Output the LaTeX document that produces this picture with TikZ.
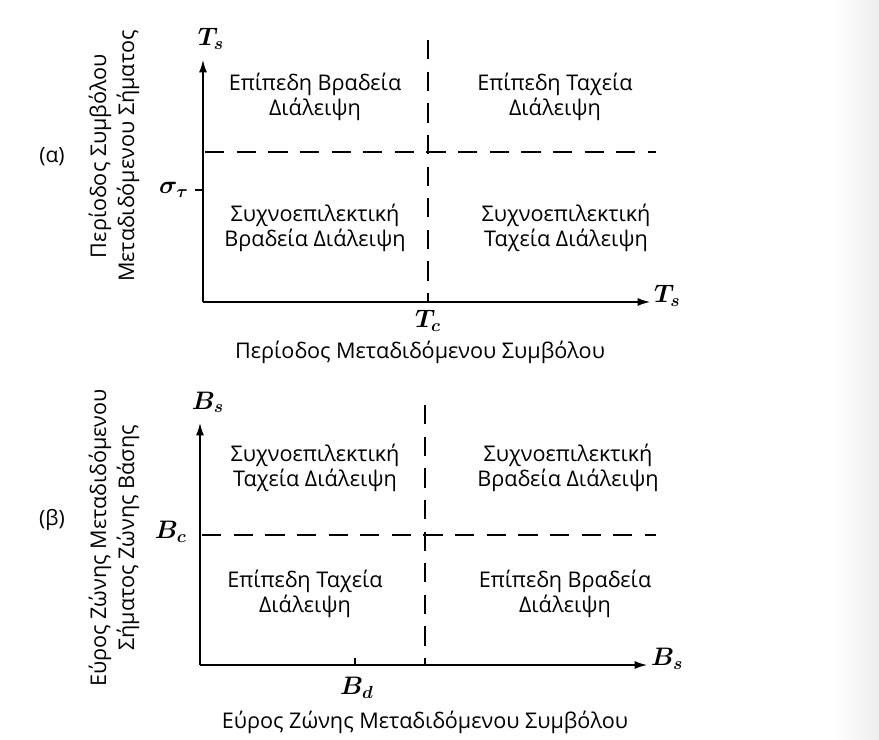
\documentclass[tikz,border=0pt]{standalone}
\usepackage{amsmath}
\usepackage{fontspec}
\setmainfont{Open Sans}
\usepackage{tikz}
\usetikzlibrary{arrows.meta}

\begin{document}
\begin{tikzpicture}[x=0.02cm,y=-0.02cm]
\tikzstyle{region} = [align=center,font=\fontsize{12.3}{14.5}\selectfont];
\tikzstyle{title} = [align=center,font=\fontsize{12.3}{16}\selectfont];
\tikzstyle{sym} = [font=\Large];
\tikzstyle{axis} = [-{Latex[length=7pt,width=4.5pt]},line width=0.75pt];
\tikzstyle{limit} = [dash pattern=on 11pt off 7pt,line width=0.75pt];
\useasboundingbox (0,0) rectangle (879,740);
\shade[left color=white,right color=black!7] (832,0) rectangle (879,740);

% (a) symbol period vs signal period
\node[font=\large] (lba) at (52,157) {(α)};
\coordinate (oa) at (203,302);
\coordinate (ya) at (203,60);
\coordinate (xa) at (650,302);
\draw[axis] (oa) -- (ya);
\draw[axis] (oa) -- (xa);
\node[sym,anchor=south] (tsy) at (211,56) {$\boldsymbol{T_s}$};
\node[sym,anchor=west] (tsx) at (648,296) {$\boldsymbol{T_s}$};
\coordinate (ha1) at (205,152);
\coordinate (ha2) at (656,152);
\coordinate (va1) at (428,40);
\coordinate (va2) at (428,302);
\draw[limit] (ha1) -- (ha2);
\draw[limit] (va1) -- (va2);
\coordinate (sa) at (195,190);
\draw[line width=0.75pt] (sa) -- (oa |- sa);
\node[sym,anchor=east] (sig) at (sa) {$\boldsymbol{\sigma_\tau}$};
\node[sym] (tc) at (428,321) {$\boldsymbol{T_c}$};
\node[title] (xta) at (420,352) {Περίοδος Μεταδιδόμενου Συμβόλου};
\node[title,rotate=90] (yta) at (114,156) {Περίοδος Συμβόλου\\Μεταδιδόμενου Σήματος};
\node[region] (a1) at (315,97) {Επίπεδη Βραδεία\\Διάλειψη};
\node[region] (a2) at (555,97) {Επίπεδη Ταχεία\\Διάλειψη};
\node[region] (a3) at (315,228) {Συχνοεπιλεκτική\\Βραδεία Διάλειψη};
\node[region] (a4) at (566,228) {Συχνοεπιλεκτική\\Ταχεία Διάλειψη};

% (b) signal bandwidth vs symbol bandwidth
\node[font=\large] (lbb) at (52,520) {(β)};
\coordinate (ob) at (200,665);
\coordinate (yb) at (200,423);
\coordinate (xb) at (647,665);
\draw[axis] (ob) -- (yb);
\draw[axis] (ob) -- (xb);
\node[sym,anchor=south] (bsy) at (208,419) {$\boldsymbol{B_s}$};
\node[sym,anchor=west] (bsx) at (645,659) {$\boldsymbol{B_s}$};
\coordinate (hb1) at (202,535);
\coordinate (hb2) at (656,535);
\coordinate (vb1) at (425,405);
\coordinate (vb2) at (425,665);
\draw[limit] (hb1) -- (hb2);
\draw[limit] (vb1) -- (vb2);
\node[sym,anchor=east] (bc) at (193,532) {$\boldsymbol{B_c}$};
\coordinate (bd) at (355,658);
\draw[line width=0.75pt] (bd) -- (bd |- ob);
\node[sym] (bdl) at (357,688) {$\boldsymbol{B_d}$};
\node[title] (xtb) at (425,722) {Εύρος Ζώνης Μεταδιδόμενου Συμβόλου};
\node[title,rotate=90] (ytb) at (114,538) {Εύρος Ζώνης Μεταδιδόμενου\\Σήματος Ζώνης Βάσης};
\node[region] (b1) at (315,468) {Συχνοεπιλεκτική\\Ταχεία Διάλειψη};
\node[region] (b2) at (568,468) {Συχνοεπιλεκτική\\Βραδεία Διάλειψη};
\node[region] (b3) at (305,594) {Επίπεδη Ταχεία\\Διάλειψη};
\node[region] (b4) at (565,594) {Επίπεδη Βραδεία\\Διάλειψη};
\end{tikzpicture}
\end{document}
